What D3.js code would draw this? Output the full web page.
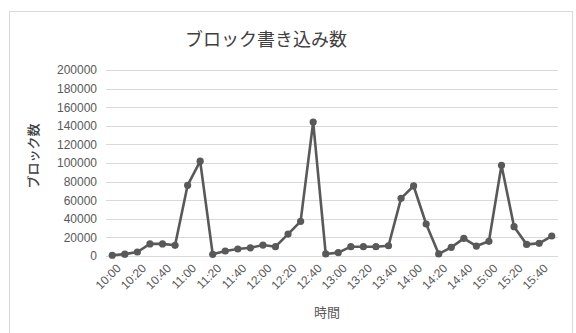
<!DOCTYPE html>
<html>
<head>
<meta charset="utf-8">
<script src="https://cdn.jsdelivr.net/npm/d3@7"></script>
<style>
  html, body { margin: 0; padding: 0; background: #fff; }
  svg { display: block; }
  text { font-family: "Noto Sans CJK JP", "Liberation Sans", sans-serif; }
</style>
</head>
<body>
<div id="chart"></div>
<script>
// Sample times (every 10 minutes) and block write counts
const times = [
  "10:00","10:10","10:20","10:30","10:40","10:50",
  "11:00","11:10","11:20","11:30","11:40","11:50",
  "12:00","12:10","12:20","12:30","12:40","12:50",
  "13:00","13:10","13:20","13:30","13:40","13:50",
  "14:00","14:10","14:20","14:30","14:40","14:50",
  "15:00","15:10","15:20","15:30","15:40","15:50"
];
const blocks = [
  800, 2000, 4300, 13000, 13000, 11500,
  76000, 102000, 1800, 5400, 7500, 8800,
  11800, 10000, 23600, 37300, 144000, 2200,
  3600, 10000, 10000, 10000, 11000, 62000,
  75300, 34400, 2200, 9300, 19000, 10700,
  15800, 97500, 31500, 12500, 13600, 21500
];
const yTicks = [0, 20000, 40000, 60000, 80000, 100000, 120000, 140000, 160000, 180000, 200000];
const xTickLabels = times.filter((t, i) => i % 2 === 0);

const W = 576, H = 333;
const plot = { left: 106, right: 558, top: 70, bottom: 256 };
const ink = "#595959";

const svg = d3.select("#chart").append("svg")
  .attr("width", W).attr("height", H);

// chart frame
svg.append("rect")
  .attr("x", 9.5).attr("y", 11.5)
  .attr("width", 563).attr("height", 330)
  .attr("fill", "#fff").attr("stroke", "#d9d9d9").attr("stroke-width", 1);

const x = d3.scalePoint().domain(times)
  .range([plot.left, plot.right]).padding(0.5);
const y = d3.scaleLinear().domain([0, 200000])
  .range([plot.bottom, plot.top]);

// horizontal gridlines
svg.append("g")
  .selectAll("line").data(yTicks).join("line")
  .attr("x1", plot.left).attr("x2", plot.right)
  .attr("y1", d => Math.round(y(d)) + 0.5).attr("y2", d => Math.round(y(d)) + 0.5)
  .attr("stroke", "#d9d9d9").attr("stroke-width", 1);

// y axis labels
const yAxis = d3.axisLeft(y).tickValues(yTicks).tickSize(0).tickPadding(0)
  .tickFormat(d3.format("d"));
const gy = svg.append("g").attr("transform", `translate(${97},0)`).call(yAxis);
gy.select(".domain").remove();
gy.selectAll("text").attr("font-size", 12).attr("fill", ink)
  .style("font-family", "'Liberation Sans', sans-serif");

// x axis labels, every other sample
const xAxis = d3.axisBottom(x).tickValues(xTickLabels).tickSize(0).tickPadding(0);
const gx = svg.append("g").attr("transform", `translate(0,${plot.bottom})`).call(xAxis);
gx.select(".domain").remove();
gx.selectAll("text")
  .attr("font-size", 12).attr("fill", ink)
  .style("font-family", "'Liberation Sans', sans-serif")
  .attr("text-anchor", "end")
  .attr("dy", "0.35em")
  .attr("transform", "translate(6,10) rotate(-45)");

// series line
const line = d3.line().x((d, i) => x(times[i])).y(d => y(d));
svg.append("path").datum(blocks)
  .attr("d", line)
  .attr("fill", "none").attr("stroke", ink)
  .attr("stroke-width", 2.6).attr("stroke-linejoin", "round");

// markers
svg.append("g").selectAll("circle").data(blocks).join("circle")
  .attr("cx", (d, i) => x(times[i])).attr("cy", d => y(d))
  .attr("r", 3.6).attr("fill", ink);

// title
svg.append("text").attr("x", 266).attr("y", 46)
  .attr("text-anchor", "middle").attr("font-size", 18).attr("fill", "#404040")
  .text("ブロック書き込み数");

// axis titles
svg.append("text").attr("x", 327).attr("y", 317)
  .attr("text-anchor", "middle").attr("font-size", 13).attr("fill", ink)
  .text("時間");
svg.append("text")
  .attr("transform", `translate(38,156) rotate(-90)`)
  .attr("text-anchor", "middle").attr("font-size", 13).attr("font-weight", 500)
  .attr("fill", "#404040")
  .text("ブロック数");
</script>
</body>
</html>
